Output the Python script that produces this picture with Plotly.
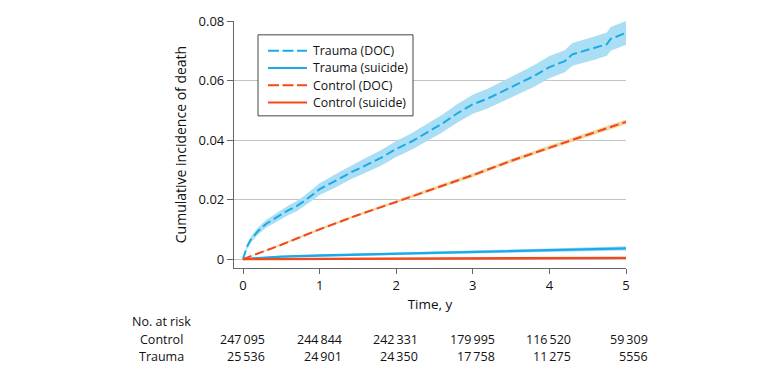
import plotly.graph_objects as go

# ---- data ----
t_doc = [0, 0.05, 0.1, 0.2, 0.3, 0.4, 0.5, 0.6, 0.7, 0.8, 0.9, 1.0, 1.2, 1.4, 1.6, 1.8,
         2.0, 2.2, 2.4, 2.6, 2.8, 3.0, 3.2, 3.4, 3.6, 3.8, 4.0, 4.2, 4.3, 4.4, 4.6,
         4.75, 4.8, 5.0]
trauma_doc = [0, 0.0040, 0.0065, 0.0095, 0.0118, 0.0135, 0.0150, 0.0165, 0.0178, 0.0195,
              0.0215, 0.0235, 0.0262, 0.0290, 0.0315, 0.0340, 0.0370, 0.0395, 0.0425,
              0.0455, 0.0490, 0.0520, 0.0540, 0.0565, 0.0590, 0.0615, 0.0645, 0.0665,
              0.0688, 0.0695, 0.0710, 0.0722, 0.0740, 0.0760]
trauma_doc_hw = [0, 0.0008, 0.0010, 0.0012, 0.0013, 0.0014, 0.0015, 0.0016, 0.0017, 0.0018,
                 0.0019, 0.0020, 0.0022, 0.0023, 0.0025, 0.0026, 0.0027, 0.0028, 0.0029,
                 0.0030, 0.0031, 0.0032, 0.0033, 0.0034, 0.0035, 0.0036, 0.0037, 0.0037,
                 0.0038, 0.0038, 0.0039, 0.0039, 0.0040, 0.0040]

t_ctl = [0, 0.5, 1.0, 1.5, 2.0, 2.5, 3.0, 3.5, 4.0, 4.5, 5.0]
control_doc = [0, 0.0048, 0.0100, 0.0148, 0.0192, 0.0237, 0.0282, 0.0330, 0.0375, 0.0418, 0.0461]
control_doc_hw = [0, 0.0003, 0.0004, 0.0004, 0.0005, 0.0005, 0.0006, 0.0006, 0.0007, 0.0007, 0.0008]

t_sui = [0, 0.25, 0.5, 1.0, 1.5, 2.0, 2.5, 3.0, 3.5, 4.0, 4.5, 5.0]
trauma_suicide = [0, 0.0005, 0.0008, 0.0012, 0.0015, 0.0018, 0.0021, 0.0024, 0.0027, 0.0030, 0.0033, 0.0036]
trauma_suicide_hw = [0, 0.0002, 0.0003, 0.0003, 0.0004, 0.0004, 0.0005, 0.0005, 0.0005, 0.0006, 0.0006, 0.0007]
control_suicide = [0, 0.00003, 0.00005, 0.0001, 0.00014, 0.00018, 0.00022, 0.00027, 0.00031, 0.00035, 0.00038, 0.0004]

risk_times = [0, 1, 2, 3, 4, 5]
risk_control = ["247\u2009095", "244\u2009844", "242\u2009331", "179\u2009995", "116\u2009520", "59\u2009309"]
risk_trauma = ["25\u2009536", "24\u2009901", "24\u2009350", "17\u2009758", "11\u2009275", "5556"]

legend_names = ["Trauma (DOC)", "Trauma (suicide)", "Control (DOC)", "Control (suicide)"]

BLUE = "#1AAAE8"
BLUE_BAND = "#A9DEF5"
RED = "#F4471C"
RED_BAND = "#EFD7A0"
FONT = "Open Sans"
DASH = "9px,4px"

fig = go.Figure()

def band(x, y, hw, color):
    up = [a + b for a, b in zip(y, hw)]
    lo = [a - b for a, b in zip(y, hw)]
    fig.add_trace(go.Scatter(x=x + x[::-1], y=up + lo[::-1], fill="toself",
                             fillcolor=color, line=dict(width=0), hoverinfo="skip",
                             showlegend=False, mode="lines"))

band(t_doc, trauma_doc, trauma_doc_hw, BLUE_BAND)
band(t_sui, trauma_suicide, trauma_suicide_hw, BLUE_BAND)
band(t_ctl, control_doc, control_doc_hw, RED_BAND)

styles = [(BLUE, DASH), (BLUE, "solid"), (RED, DASH), (RED, "solid")]
series = [(t_doc, trauma_doc), (t_sui, trauma_suicide), (t_ctl, control_doc), (t_sui, control_suicide)]
for name, (col, dash), (xs, ys) in zip(legend_names, styles, series):
    fig.add_trace(go.Scatter(x=xs, y=ys, mode="lines", name=name, showlegend=False,
                             line=dict(color=col, width=2 if dash != "solid" else 2.3, dash=dash)))

# ---- legend box drawn in paper coordinates ----
W, H, L, B = 392.0, 250.0, 234.0, 268.0
def px(xp): return (xp - L) / W
def py(yp): return (B - yp) / H

shapes = [dict(type="rect", xref="paper", yref="paper", x0=px(258), x1=px(413),
               y0=py(114), y1=py(32), line=dict(color="#444", width=1),
               fillcolor="white", layer="above")]
ann = []
row_y = [48, 65.5, 83, 100.5]
for name, (col, dash), ry in zip(legend_names, styles, row_y):
    shapes.append(dict(type="line", xref="paper", yref="paper", x0=px(268), x1=px(307),
                       y0=py(ry), y1=py(ry), layer="above",
                       line=dict(color=col, width=2, dash="11px,3.5px" if dash != "solid" else "solid")))
    ann.append(dict(text=name, xref="paper", yref="paper", x=px(311), y=py(ry),
                    xanchor="left", yanchor="middle", showarrow=False,
                    font=dict(size=12.3, color="#111", family=FONT)))

# number at risk table
rows = [("No. at risk", -0.216), ("Control", -0.288), ("Trauma", -0.36)]
for txt, yy in rows:
    ann.append(dict(text=txt, xref="paper", yref="paper", x=-0.184, y=yy,
                    xanchor="center", yanchor="middle", showarrow=False,
                    font=dict(size=12.5, color="#111", family=FONT)))
for tx, c, tr in zip(risk_times, risk_control, risk_trauma):
    ann.append(dict(text=c, xref="x", yref="paper", x=tx, y=-0.288, xshift=24,
                    xanchor="right", yanchor="middle", showarrow=False,
                    font=dict(size=12.5, color="#111", family=FONT)))
    ann.append(dict(text=tr, xref="x", yref="paper", x=tx, y=-0.36, xshift=24,
                    xanchor="right", yanchor="middle", showarrow=False,
                    font=dict(size=12.5, color="#111", family=FONT)))

fig.update_layout(
    width=780, height=375,
    margin=dict(l=234, r=154, t=18, b=107),
    plot_bgcolor="white", paper_bgcolor="white",
    font=dict(family=FONT, size=13, color="#111"),
    showlegend=False,
    annotations=ann,
    shapes=shapes,
    xaxis=dict(range=[-0.1175, 5], tickvals=[0, 1, 2, 3, 4, 5],
               showgrid=False, zeroline=False, showline=True, linecolor="#666",
               linewidth=1.2, ticks="outside", ticklen=5, tickcolor="#666",
               tickfont=dict(size=13), title=dict(text="Time, y", standoff=6,
                                                  font=dict(size=13.5))),
    yaxis=dict(range=[-0.003, 0.08], tickvals=[0, 0.02, 0.04, 0.06, 0.08],
               ticktext=["0", "0.02", "0.04", "0.06", "0.08"],
               showgrid=True, gridcolor="#C4C4C4", gridwidth=1.2, zeroline=False,
               showline=True, linecolor="#666", linewidth=1.2, ticks="outside",
               ticklen=6, tickcolor="#666", tickfont=dict(size=13),
               title=dict(text="Cumulative incidence of death", standoff=8,
                          font=dict(size=14))),
)

fig.write_html("out.html")
